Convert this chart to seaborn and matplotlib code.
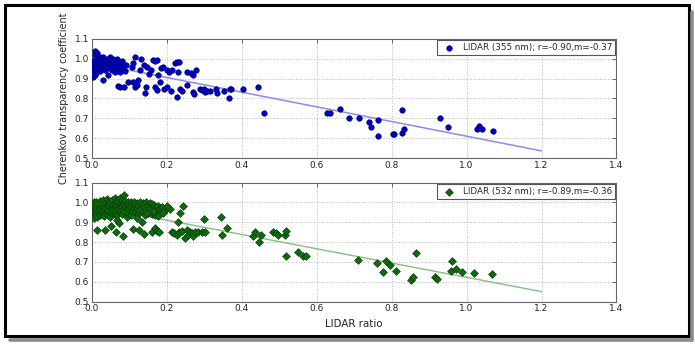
import matplotlib
matplotlib.use('Agg')
import matplotlib.pyplot as plt
import matplotlib.patches as mpatches
from matplotlib.lines import Line2D
import pandas as pd
import seaborn as sns

# LIDAR 355 nm vs Cherenkov transparency
x355 = [0.000, 0.002, 0.004, 0.004, 0.005, 0.006, 0.007, 0.008, 0.009, 0.009,
        0.010, 0.010, 0.011, 0.012, 0.013, 0.013, 0.015, 0.016, 0.017, 0.018,
        0.020, 0.021, 0.022, 0.022, 0.024, 0.025, 0.027, 0.028, 0.030, 0.031,
        0.031, 0.033, 0.034, 0.036, 0.038, 0.040, 0.040, 0.042, 0.044, 0.045,
        0.047, 0.049, 0.050, 0.052, 0.053, 0.055, 0.057, 0.058, 0.060, 0.062,
        0.062, 0.065, 0.067, 0.068, 0.071, 0.071, 0.072, 0.076, 0.076, 0.078,
        0.080, 0.082, 0.084, 0.086, 0.088, 0.092, 0.098, 0.107, 0.111, 0.111,
        0.116, 0.116, 0.122, 0.124, 0.129, 0.132, 0.140, 0.141, 0.144, 0.148,
        0.153, 0.157, 0.163, 0.169, 0.173, 0.169, 0.173, 0.178, 0.182, 0.185,
        0.189, 0.194, 0.200, 0.202, 0.206, 0.211, 0.215, 0.222, 0.227, 0.233,
        0.227, 0.231, 0.236, 0.240, 0.253, 0.255, 0.264, 0.269, 0.271, 0.273,
        0.277, 0.289, 0.294, 0.300, 0.303, 0.308, 0.316, 0.332, 0.333, 0.353,
        0.367, 0.369, 0.371, 0.404, 0.444, 0.460,
        0.629, 0.635, 0.662, 0.687, 0.714, 0.740, 0.744, 0.763, 0.765, 0.804,
        0.807, 0.829, 0.827, 0.832, 0.930, 0.950, 1.027, 1.032, 1.040, 1.071]
y355 = [0.970, 0.950, 0.990, 0.910, 0.960, 0.975, 0.940, 1.020, 1.040, 0.985,
        0.955, 0.920, 0.930, 1.000, 1.028, 0.965, 0.945, 0.990, 0.975, 0.955,
        0.985, 0.940, 1.010, 0.965, 1.000, 0.975, 0.950, 0.985, 0.960, 1.010,
        0.895, 0.990, 0.970, 0.945, 0.980, 1.000, 0.960, 0.990, 0.918, 0.975,
        0.955, 1.010, 0.985, 0.965, 0.970, 0.945, 0.990, 1.000, 0.970, 0.977,
        0.935, 0.955, 0.985, 1.000, 0.960, 0.863, 0.945, 0.935, 0.856, 0.965,
        0.977, 0.990, 0.952, 0.856, 0.940, 0.970, 0.885, 0.960, 0.980, 0.885,
        1.010, 0.856, 0.868, 0.893, 0.944, 1.000, 0.970, 0.830, 0.860, 0.960,
        0.923, 0.944, 0.994, 0.990, 0.994, 0.856, 0.843, 0.918, 0.885, 0.952,
        0.960, 0.846, 0.856, 0.944, 0.935, 0.840, 0.944, 0.980, 0.985, 0.985,
        0.810, 0.935, 0.850, 0.840, 0.935, 0.868, 0.927, 0.918, 0.834, 0.823,
        0.944, 0.850, 0.843, 0.850, 0.834, 0.840, 0.836, 0.850, 0.826, 0.838,
        0.800, 0.846, 0.850, 0.850, 0.856, 0.728,
        0.725, 0.727, 0.747, 0.703, 0.700, 0.680, 0.655, 0.690, 0.609, 0.620,
        0.623, 0.743, 0.628, 0.645, 0.700, 0.656, 0.648, 0.660, 0.645, 0.638]

# LIDAR 532 nm vs Cherenkov transparency
x532 = [0.002, 0.002, 0.002, 0.005, 0.005, 0.005, 0.005, 0.008, 0.008, 0.012,
        0.012, 0.012, 0.015, 0.015, 0.015, 0.019, 0.019, 0.022, 0.022, 0.022,
        0.026, 0.026, 0.029, 0.029, 0.029, 0.033, 0.033, 0.033, 0.036, 0.036,
        0.040, 0.040, 0.040, 0.043, 0.043, 0.047, 0.047, 0.047, 0.050, 0.050,
        0.054, 0.054, 0.054, 0.057, 0.057, 0.061, 0.061, 0.061, 0.061, 0.064,
        0.064, 0.068, 0.068, 0.068, 0.071, 0.071, 0.075, 0.075, 0.075, 0.079,
        0.079, 0.082, 0.082, 0.082, 0.086, 0.086, 0.086, 0.090, 0.090, 0.090,
        0.093, 0.093, 0.097, 0.097, 0.097, 0.100, 0.100, 0.104, 0.104, 0.104,
        0.108, 0.108, 0.112, 0.112, 0.116, 0.116, 0.120, 0.120, 0.124, 0.124,
        0.128, 0.128, 0.133, 0.137, 0.137, 0.141, 0.141, 0.146, 0.146, 0.150,
        0.150, 0.155, 0.155, 0.160, 0.160, 0.165, 0.165, 0.170, 0.170, 0.176,
        0.182, 0.182, 0.188, 0.195, 0.208,
        0.015, 0.036, 0.051, 0.065, 0.083, 0.068, 0.074, 0.111, 0.126, 0.140,
        0.133, 0.120, 0.160, 0.169, 0.175, 0.180, 0.147, 0.164, 0.178, 0.191,
        0.200, 0.213, 0.220, 0.227, 0.232, 0.240, 0.243, 0.236, 0.231, 0.249,
        0.253, 0.258, 0.262, 0.267, 0.271, 0.276, 0.284, 0.293, 0.302, 0.300,
        0.344, 0.347, 0.360, 0.429, 0.436, 0.447, 0.451, 0.484, 0.492, 0.498,
        0.516, 0.518, 0.518, 0.549, 0.564, 0.572,
        0.711, 0.762, 0.776, 0.785, 0.797, 0.811, 0.851, 0.856, 0.865, 0.915,
        0.920, 0.960, 0.958, 0.973, 0.987, 1.019, 1.069]
y532 = [0.990, 0.960, 0.930, 1.000, 0.975, 0.945, 0.920, 0.985, 0.955, 1.000,
        0.970, 0.940, 0.990, 0.960, 0.925, 0.980, 0.950, 1.005, 0.965, 0.935,
        0.990, 0.960, 1.010, 0.975, 0.945, 0.985, 0.955, 0.930, 1.000, 0.970,
        1.015, 0.985, 0.950, 0.965, 0.935, 1.005, 0.980, 0.955, 0.990, 0.925,
        1.010, 0.970, 0.945, 0.985, 0.960, 1.020, 0.995, 0.970, 0.940, 0.980,
        0.955, 1.010, 0.985, 0.935, 1.000, 0.965, 1.020, 0.975, 0.950, 0.995,
        0.960, 1.010, 0.980, 0.940, 1.038, 0.990, 0.965, 1.005, 0.975, 0.950,
        0.985, 0.925, 1.000, 0.970, 0.945, 0.985, 0.960, 1.000, 0.975, 0.935,
        0.990, 0.955, 1.000, 0.970, 0.985, 0.950, 0.995, 0.965, 0.980, 0.940,
        1.000, 0.960, 0.985, 0.995, 0.955, 0.975, 0.935, 1.000, 0.960, 0.985,
        0.945, 0.995, 0.965, 0.990, 0.940, 0.985, 0.955, 0.975, 0.935, 0.980,
        0.970, 0.945, 0.975, 0.960, 0.965,
        0.861, 0.861, 0.881, 0.853, 0.831, 0.912, 0.895, 0.865, 0.861, 0.841,
        0.903, 0.920, 0.853, 0.870, 0.858, 0.848, 0.945, 0.954, 0.929, 0.945,
        0.982, 0.848, 0.845, 0.836, 0.848, 0.856, 0.982, 0.945, 0.903, 0.819,
        0.861, 0.836, 0.853, 0.845, 0.828, 0.853, 0.853, 0.848, 0.848, 0.918,
        0.925, 0.836, 0.870, 0.831, 0.853, 0.802, 0.836, 0.853, 0.845, 0.836,
        0.836, 0.856, 0.727, 0.752, 0.730, 0.730,
        0.707, 0.693, 0.650, 0.702, 0.683, 0.656, 0.609, 0.623, 0.744, 0.626,
        0.616, 0.702, 0.656, 0.663, 0.651, 0.646, 0.640]

# linear fits drawn over 0 .. 1.2
fit_x = [0.0, 1.2]
fit355 = [0.980, 0.536]
fit532 = [0.982, 0.550]

label355 = 'LIDAR (355 nm); r=-0.90,m=-0.37'
label532 = 'LIDAR (532 nm); r=-0.89,m=-0.36'

xticks = [0.0, 0.2, 0.4, 0.6, 0.8, 1.0, 1.2, 1.4]
yticks = [0.5, 0.6, 0.7, 0.8, 0.9, 1.0, 1.1]

sns.set_style('white')
plt.rcParams['font.family'] = ['DejaVu Sans']

fig = plt.figure(figsize=(6.95, 3.45), dpi=100)
ax1 = fig.add_axes([0.132, 0.542, 0.755, 0.345])
ax2 = fig.add_axes([0.132, 0.126, 0.755, 0.345])

df355 = pd.DataFrame({'x': x355, 'y': y355})
df532 = pd.DataFrame({'x': x532, 'y': y532})

sns.lineplot(x=fit_x, y=fit355, ax=ax1, color='#8a8af2', lw=1.1)
sns.scatterplot(data=df355, x='x', y='y', ax=ax1, marker='o', s=16,
                color='#0000c8', edgecolor='#000060', linewidth=0.4,
                label=label355, zorder=3)

sns.lineplot(x=fit_x, y=fit532, ax=ax2, color='#80c080', lw=1.0)
sns.scatterplot(data=df532, x='x', y='y', ax=ax2, marker='D', s=16,
                color='#0d6b0d', edgecolor='#033003', linewidth=0.4,
                label=label532, zorder=3)

for ax in (ax1, ax2):
    ax.set_xlim(0, 1.4)
    ax.set_ylim(0.5, 1.1)
    ax.set_xticks(xticks)
    ax.set_yticks(yticks)
    ax.set_xticklabels(['%.1f' % t for t in xticks])
    ax.set_yticklabels(['%.1f' % t for t in yticks])
    ax.grid(True, linestyle=':', color='#b8b8b8', lw=0.7)
    ax.tick_params(direction='in', top=True, right=True, length=3,
                   width=0.5, labelsize=6.5, pad=2, colors='#333333',
                   labelcolor='#222222')
    for sp in ax.spines.values():
        sp.set_color('#666666')
        sp.set_linewidth(0.8)
    ax.set_xlabel('')
    ax.set_ylabel('')
    leg = ax.legend(loc='upper right', fontsize=6.3, scatterpoints=1,
                    fancybox=False, framealpha=1, borderaxespad=0.15,
                    handletextpad=0.6, borderpad=0.35)
    leg.get_frame().set_edgecolor('#555555')
    leg.get_frame().set_linewidth(0.8)

ax1.set_ylabel('Cherenkov transparency coefficient', fontsize=6.9,
               color='#222222', labelpad=4)
ax2.set_xlabel('LIDAR ratio', fontsize=7.4, color='#222222', labelpad=4)

# screenshot frame with a drop shadow on the right and bottom
W, H = 695.0, 345.0
fig.lines.append(Line2D([692 / W, 692 / W], [333 / H, 5 / H],
                        transform=fig.transFigure, color='#8a8a8a', lw=2.6))
fig.lines.append(Line2D([10 / W, 692 / W], [5 / H, 5 / H],
                        transform=fig.transFigure, color='#8a8a8a', lw=2.6))
fig.patches.append(mpatches.Rectangle((5 / W, 9 / H), 684 / W, 331 / H,
                                      transform=fig.transFigure, fill=False,
                                      ec='black', lw=2.2))

fig.savefig('out.png', dpi=100)
